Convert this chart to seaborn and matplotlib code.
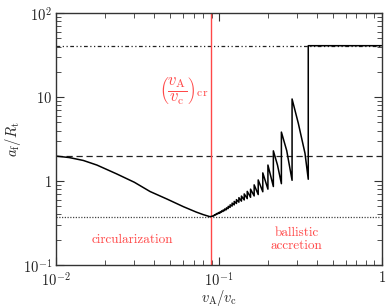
import numpy as np
import pandas as pd
import seaborn as sns
import matplotlib.pyplot as plt
from matplotlib.ticker import FixedLocator, LogLocator, NullFormatter

# curve a_f/R_t vs v_A/v_c
# smooth branch on the left (circularization side)
left_x = [0.0100, 0.0120, 0.01466, 0.01778, 0.0235, 0.0302, 0.0377, 0.0479, 0.0604, 0.0724, 0.0800, 0.0880]
left_y = [1.98, 1.905, 1.758, 1.549, 1.216, 0.966, 0.750, 0.610, 0.495, 0.427, 0.398, 0.376]

# sawtooth: position of each jump, value just before it and just after it
jump_x = [0.0925, 0.0941, 0.0958, 0.0976, 0.0996, 0.1016, 0.1037, 0.1061, 0.1085,
          0.1112, 0.1140, 0.1171, 0.1205, 0.1241, 0.1281, 0.1326, 0.1375, 0.1430,
          0.1492, 0.1564, 0.1646, 0.1743, 0.1860, 0.2000, 0.2160, 0.2420, 0.2815]
jump_lo = [0.383, 0.390, 0.397, 0.404, 0.410, 0.416, 0.425, 0.434, 0.444,
           0.455, 0.470, 0.485, 0.503, 0.520, 0.540, 0.560, 0.576, 0.595,
           0.617, 0.640, 0.664, 0.690, 0.745, 0.800, 0.860, 0.930, 1.020]
jump_hi = [0.388, 0.396, 0.404, 0.413, 0.421, 0.430, 0.441, 0.452, 0.465,
           0.479, 0.499, 0.520, 0.545, 0.571, 0.600, 0.633, 0.662, 0.702,
           0.753, 0.800, 0.900, 1.030, 1.250, 1.550, 2.290, 3.830, 9.500]

# extra points on the bowed decay of the biggest teeth
bow_x = [0.2290, 0.2610, 0.3076, 0.3380]
bow_y = [1.55, 2.30, 4.86, 2.14]

# final step up to the ballistic value
step_x = [0.3540, 0.3540, 1.0]
step_y = [1.05, 41.0, 41.0]

# reference levels
y_dashed = 2.0
y_dashdot = 41.0
y_dotted = 0.376
x_crit = 0.089

xtick_vals = [0.01, 0.1, 1]
xtick_labels = [r'$10^{-2}$', r'$10^{-1}$', r'$1$']
ytick_vals = [0.1, 1, 10, 100]
ytick_labels = [r'$10^{-1}$', r'$1$', r'$10$', r'$10^{2}$']

# put the pieces together into one polyline
xs = list(left_x)
ys = list(left_y)
pts = sorted(zip(bow_x, bow_y))
for i, (jx, lo, hi) in enumerate(zip(jump_x, jump_lo, jump_hi)):
    prev = jump_x[i - 1] if i > 0 else 0
    for bx, by in pts:
        if prev < bx < jx:
            xs.append(bx)
            ys.append(by)
    xs += [jx, jx]
    ys += [lo, hi]
for bx, by in pts:
    if jump_x[-1] < bx < step_x[0]:
        xs.append(bx)
        ys.append(by)
xs += step_x
ys += step_y
curve = pd.DataFrame({'v': xs, 'a': ys})

sns.set_style('ticks')
plt.rcParams['font.family'] = ['serif']
plt.rcParams['font.serif'] = ['cmr10', 'DejaVu Serif']
plt.rcParams['mathtext.fontset'] = 'cm'
plt.rcParams['axes.formatter.use_mathtext'] = True

red = '#ff4848'
fig = plt.figure(figsize=(3.91, 3.07), dpi=100)
ax = fig.add_axes([0.144, 0.137, 0.832, 0.820])

ax.axhline(y_dashed, color='#222222', lw=0.9, ls=(0, (5, 3)))
ax.axhline(y_dashdot, color='#222222', lw=0.9, ls=(0, (3, 2, 1, 2, 1, 2)))
ax.axhline(y_dotted, color='#444444', lw=0.9, ls=(0, (1, 1.2)))
ax.axvline(x_crit, color=red, lw=1.0)

sns.lineplot(data=curve, x='v', y='a', sort=False, estimator=None,
             color='black', lw=1.1, ax=ax)

ax.set_xscale('log')
ax.set_yscale('log')
ax.set_xlim(0.01, 1)
ax.set_ylim(0.1, 100)

ax.xaxis.set_major_locator(FixedLocator(xtick_vals))
ax.set_xticklabels(xtick_labels)
ax.yaxis.set_major_locator(FixedLocator(ytick_vals))
ax.set_yticklabels(ytick_labels)
ax.xaxis.set_minor_locator(LogLocator(base=10, subs=np.arange(2, 10)))
ax.yaxis.set_minor_locator(LogLocator(base=10, subs=np.arange(2, 10)))
ax.xaxis.set_minor_formatter(NullFormatter())
ax.yaxis.set_minor_formatter(NullFormatter())
ax.tick_params(which='both', direction='in', top=True, right=True,
               colors='#333333', labelcolor='#222222', labelsize=10.5)
ax.tick_params(which='major', length=6, width=0.8)
ax.tick_params(which='minor', length=3.5, width=0.6)
ax.tick_params(axis='x', pad=4)
ax.tick_params(axis='y', pad=3)
for s in ax.spines.values():
    s.set_color('#333333')
    s.set_linewidth(1.0)

ax.set_xlabel(r'$v_{\rm A}/v_{\rm c}$', fontsize=10.5, color='#222222', labelpad=0)
ax.set_ylabel(r'$a_{\rm f}/R_{\rm t}$', fontsize=10.5, color='#222222', labelpad=0)

ax.text(0.061, 12.0, r'$\left(\dfrac{v_{\rm A}}{v_{\rm c}}\right)_{\rm cr}$',
        color=red, fontsize=12, ha='center', va='center')
ax.text(0.0294, 0.2, 'circularization', color=red, fontsize=9.5,
        ha='center', va='center')
ax.text(0.30, 0.2, 'ballistic\naccretion', color=red, fontsize=9.5,
        ha='center', va='center', linespacing=1.1)

fig.savefig('out.png', dpi=100)
